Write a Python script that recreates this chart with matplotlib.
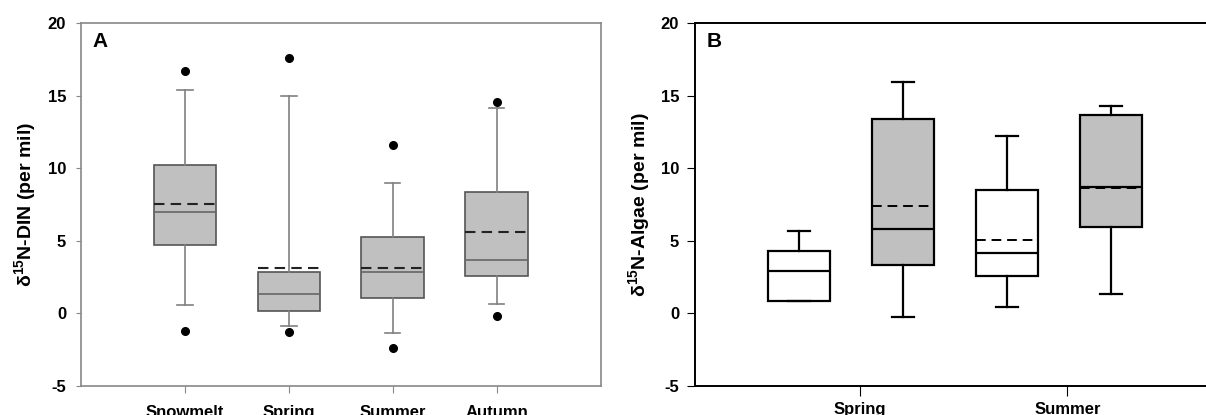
import matplotlib
matplotlib.use('Agg')
from matplotlib import pyplot as plt

plt.rcParams['font.family'] = ['Liberation Sans', 'DejaVu Sans']
plt.rcParams['font.weight'] = 'bold'
plt.rcParams['axes.unicode_minus'] = False
plt.rcParams['mathtext.fontset'] = 'custom'
plt.rcParams['mathtext.rm'] = 'Liberation Sans'
plt.rcParams['mathtext.bf'] = 'Liberation Sans:bold'
plt.rcParams['mathtext.it'] = 'Liberation Sans:italic'

# panel A: d15N of DIN by season
din_seasons = ['Snowmelt', 'Spring', 'Summer', 'Autumn']
din_q1 = [4.69, 0.19, 1.04, 2.55]
din_med = [6.96, 1.31, 2.87, 3.68]
din_q3 = [10.2, 2.87, 5.24, 8.36]
din_mean = [7.55, 3.15, 3.15, 5.63]
din_lo = [0.58, -0.87, -1.37, 0.63]
din_hi = [15.39, 15.02, 8.98, 14.17]
din_out_hi = [16.7, 17.59, 11.6, 14.56]
din_out_lo = [-1.21, -1.26, -2.40, -0.16]

# panel B: d15N of algae, two boxes per season (white / grey)
alg_seasons = ['Spring', 'Summer']
alg_q1 = [0.85, 3.31, 2.58, 5.98]
alg_med = [2.90, 5.84, 4.14, 8.72]
alg_q3 = [4.32, 13.42, 8.47, 13.65]
alg_mean = [2.94, 7.41, 5.06, 8.67]
alg_lo = [0.85, -0.23, 0.46, 1.33]
alg_hi = [5.68, 15.95, 12.2, 14.32]
alg_fill = ['white', '#c0c0c0', 'white', '#c0c0c0']

W, H = 1206, 415
fig = plt.figure(figsize=(W/100., H/100.), dpi=100)
fig.patch.set_facecolor('white')

axA = fig.add_axes([80.7/W, 1-385.8/H, 520/W, 362.5/H])
axB = fig.add_axes([695/W, 1-385.8/H, 511/W, 362.5/H])

def stats(q1, med, q3, mean, lo, hi, fliers=None):
    out = []
    for i in range(len(q1)):
        d = dict(q1=q1[i], med=med[i], q3=q3[i], mean=mean[i],
                 whislo=lo[i], whishi=hi[i], fliers=[])
        if fliers is not None:
            d['fliers'] = fliers[i]
        out.append(d)
    return out

# ---- panel A
fl = [[din_out_hi[i], din_out_lo[i]] for i in range(len(din_q1))]
posA = list(range(1, len(din_seasons)+1))
bpA = axA.bxp(stats(din_q1, din_med, din_q3, din_mean, din_lo, din_hi, fl),
              positions=posA, widths=0.6, capwidths=0.15,
              patch_artist=True, showmeans=True, meanline=True,
              boxprops=dict(facecolor='#c0c0c0', edgecolor='#555555', linewidth=1.2),
              whiskerprops=dict(color='#808080', linewidth=1.2),
              capprops=dict(color='#808080', linewidth=1.2),
              medianprops=dict(color='#666666', linewidth=1.2),
              meanprops=dict(color='#222222', linestyle=(0, (5, 3)), linewidth=1.5),
              flierprops=dict(marker='o', markerfacecolor='k', markeredgecolor='k',
                              markersize=5.5, linestyle='none'))
axA.set_xlim(0, 5)
axA.set_xticks(posA)
axA.set_xticklabels(din_seasons)
axA.set_ylabel(r'$\mathrm{δ}^{\mathbf{15}}$N-DIN (per mil)', fontsize=14, fontweight='bold')
axA.yaxis.set_label_coords(-0.082, 0.5)
axA.text(0.023, 0.975, 'A', transform=axA.transAxes, fontsize=15, fontweight='bold',
         ha='left', va='top')
for s in axA.spines.values():
    s.set_color('#888888')
    s.set_linewidth(1.2)
axA.tick_params(axis='y', direction='out', length=3.5, color='#888888', pad=7, labelsize=12)
axA.tick_params(axis='x', direction='out', length=5, color='#888888', pad=8.5, labelsize=12)

# ---- panel B
posB = []
for g in range(1, len(alg_seasons)+1):
    posB += [g - 0.29, g + 0.21]
bpB = axB.bxp(stats(alg_q1, alg_med, alg_q3, alg_mean, alg_lo, alg_hi),
              positions=posB, widths=0.3, capwidths=0.105,
              patch_artist=True, showmeans=True, meanline=True, showfliers=False,
              boxprops=dict(edgecolor='black', linewidth=1.6),
              whiskerprops=dict(color='black', linewidth=1.6),
              capprops=dict(color='black', linewidth=1.6),
              medianprops=dict(color='black', linewidth=1.6),
              meanprops=dict(color='black', linestyle=(0, (5, 3)), linewidth=1.4))
for b, c in zip(bpB['boxes'], alg_fill):
    b.set_facecolor(c)
axB.set_xlim(0.208, 2.667)
axB.set_xticks(range(1, len(alg_seasons)+1))
axB.set_xticklabels(alg_seasons)
axB.set_ylabel(r'$\mathrm{δ}^{\mathbf{15}}$N-Algae (per mil)', fontsize=14, fontweight='bold')
axB.yaxis.set_label_coords(-0.084, 0.5)
axB.text(0.023, 0.975, 'B', transform=axB.transAxes, fontsize=15, fontweight='bold',
         ha='left', va='top')
axB.spines['right'].set_visible(False)
for s in ['left', 'top', 'bottom']:
    axB.spines[s].set_linewidth(1.4)
axB.tick_params(axis='y', direction='out', length=5.5, pad=6, labelsize=12)
axB.tick_params(axis='x', direction='out', length=7, pad=4.5, labelsize=12)

for ax in (axA, axB):
    ax.set_ylim(-5, 20)
    ax.set_yticks([-5, 0, 5, 10, 15, 20])
    for lab in ax.get_xticklabels() + ax.get_yticklabels():
        lab.set_fontweight('bold')

plt.savefig('out.png', dpi=100)
